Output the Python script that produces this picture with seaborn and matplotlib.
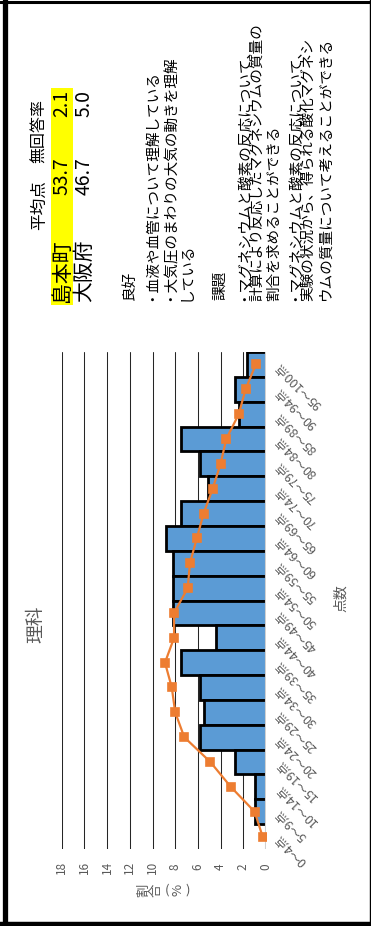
import matplotlib
matplotlib.use("Agg")
import matplotlib.pyplot as plt
from matplotlib.lines import Line2D
from matplotlib.patches import Rectangle
import seaborn as sns
import pandas as pd

# ---------------- data ----------------
categories = ["0～4点", "5～9点", "10～14点", "15～19点", "20～24点", "25～29点",
              "30～34点", "35～39点", "40～44点", "45～49点", "50～54点", "55～59点",
              "60～64点", "65～69点", "70～74点", "75～79点", "80～84点", "85～89点",
              "90～94点", "95～100点"]
shimamoto = [0.0, 1.0, 1.0, 2.7, 5.8, 5.5, 5.8, 7.5, 4.4, 8.2,
             8.2, 8.2, 8.8, 7.5, 5.1, 5.8, 7.5, 2.4, 2.7, 1.7]
osaka = [0.3, 1.0, 3.1, 4.9, 7.2, 8.0, 8.3, 8.9, 8.1, 8.1,
         6.9, 6.7, 6.1, 5.5, 4.7, 4.0, 3.5, 2.4, 1.8, 0.9]
value_ticks = [0, 2, 4, 6, 8, 10, 12, 14, 16, 18]

title = "理科"
x_title = "点数"
y_title_chars = ["割", "合", "(", "%", ")"]

table_header = ["平均点", "無回答率"]
table_rows = [["島本町", "53.7", "2.1"], ["大阪府", "46.7", "5.0"]]

good_head = "良好"
good_lines = ["・血液や血管について理解している",
              "・大気圧のまわりの大気の動きを理解",
              "している"]
issue_head = "課題"
issue_lines = ["・マグネシウムと酸素の反応について、",
               "計算により反応したマグネシウムの質量の",
               "割合を求めることができる",
               "・マグネシウムと酸素の反応について、",
               "実験の状況から、得られる酸化マグネシ",
               "ウムの質量について考えることができる"]

# ---------------- style ----------------
sns.set_style("white")
plt.rcParams["font.family"] = ["Noto Sans CJK JP", "DejaVu Sans"]

W, H = 371, 926
fig = plt.figure(figsize=(W / 100, H / 100), dpi=100)


def fx(x):
    return x / W


def fy(y):
    return 1 - y / H


BAR = "#5B9BD5"
ORANGE = "#ED7D31"
GRAY = "#595959"

ax = fig.add_axes([fx(61.7), fy(849), (266 - 61.7) / W, (849 - 352) / H])

df = pd.DataFrame({"cat": categories, "shimamoto": shimamoto, "osaka": osaka})
order = categories[::-1]

sns.barplot(data=df, x="shimamoto", y="cat", order=order, orient="h",
            color=BAR, saturation=1, width=1.0, edgecolor="black",
            linewidth=2.0, ax=ax, zorder=2)
sns.pointplot(data=df, x="osaka", y="cat", order=order, orient="h",
              color=ORANGE, markers="s", markersize=5.5, linewidth=1.6,
              markeredgecolor=ORANGE, ax=ax, zorder=4)

ax.set_xlim(18, 0)
ax.set_ylim(19.5, -0.5)
ax.set_axisbelow(True)
ax.grid(axis="x", color="#262626", linewidth=0.75)
ax.grid(axis="y", visible=False)
for s in ax.spines.values():
    s.set_visible(False)
ax.axvline(0, color="#D0D0D0", linewidth=1.5, zorder=3)

ax.set_xticks(value_ticks)
ax.set_xticklabels([str(v) for v in value_ticks])
ax.tick_params(axis="x", length=0, pad=13, labelsize=8.5, labelcolor=GRAY)
for lbl in ax.get_xticklabels():
    lbl.set_rotation(90)
    lbl.set_va("center")
    lbl.set_ha("center")

ax.set_yticks(range(len(order)))
ax.set_yticklabels(order)
ax.yaxis.tick_right()
ax.tick_params(axis="y", length=0, pad=8, labelsize=9, labelcolor=GRAY)
for lbl in ax.get_yticklabels():
    lbl.set_rotation(135)
    lbl.set_ha("right")
    lbl.set_va("center")
    lbl.set_rotation_mode("anchor")
ax.set_xlabel("")
ax.set_ylabel("")

# titles
fig.text(fx(36), fy(624), title, rotation=90, ha="center", va="center",
         fontsize=13.5, color=GRAY)
fig.text(fx(341), fy(598), x_title, rotation=90, ha="center", va="center",
         fontsize=10, color=GRAY)
ylab_x = [143.5, 156.5, 167.5, 177.5, 187.5]
ylab_rot = [90, 90, 0, 90, 0]
for ch, xx, rr in zip(y_title_chars, ylab_x, ylab_rot):
    fig.text(fx(xx), fy(890), ch, rotation=rr, ha="center", va="center",
             fontsize=9.5, color=GRAY)

# ---------------- table ----------------
fig.patches.append(Rectangle((fx(51), fy(305)), (73 - 51) / W, (305 - 88) / H,
                             transform=fig.transFigure, facecolor="#FFFF00",
                             edgecolor="none", zorder=0))
fig.text(fx(40), fy(230), table_header[0], rotation=90, ha="center", va="bottom",
         fontsize=12, color="black")
fig.text(fx(40), fy(163), table_header[1], rotation=90, ha="center", va="bottom",
         fontsize=11.5, color="black")
row_x = [62, 84]
for xx, row in zip(row_x, table_rows):
    fig.text(fx(xx), fy(302), row[0], rotation=90, ha="center", va="bottom",
             fontsize=15, color="black")
    fig.text(fx(xx), fy(157), row[1], rotation=90, ha="center", va="top",
             fontsize=14, color="black")
    fig.text(fx(xx), fy(90), row[2], rotation=90, ha="center", va="top",
             fontsize=14, color="black")

# ---------------- comments ----------------
fs = 10.5
fig.text(fx(130), fy(300), good_head, rotation=90, ha="center", va="bottom",
         fontsize=fs, color="black")
for i, line in enumerate(good_lines):
    fig.text(fx(149 + 19 * i), fy(301), line, rotation=90, ha="center",
             va="bottom", fontsize=fs, color="black")
fig.text(fx(220), fy(300), issue_head, rotation=90, ha="center", va="bottom",
         fontsize=fs, color="black")
for i, line in enumerate(issue_lines):
    fig.text(fx(240.5 + 17 * i), fy(301), line, rotation=90, ha="center",
             va="bottom", fontsize=fs, color="black")

# ---------------- frame ----------------
fig.lines.append(Line2D([fx(4.5), fx(4.5)], [0, 1], transform=fig.transFigure,
                        color="black", linewidth=3.8))
fig.lines.append(Line2D([0, 1], [fy(1.5), fy(1.5)], transform=fig.transFigure,
                        color="black", linewidth=2.2))
fig.lines.append(Line2D([0, 1], [fy(924), fy(924)], transform=fig.transFigure,
                        color="black", linewidth=3.2))
fig.lines.append(Line2D([fx(369.5), fx(369.5)], [0, 1], transform=fig.transFigure,
                        color="black", linewidth=1.0))

fig.savefig("out.png", dpi=100)
